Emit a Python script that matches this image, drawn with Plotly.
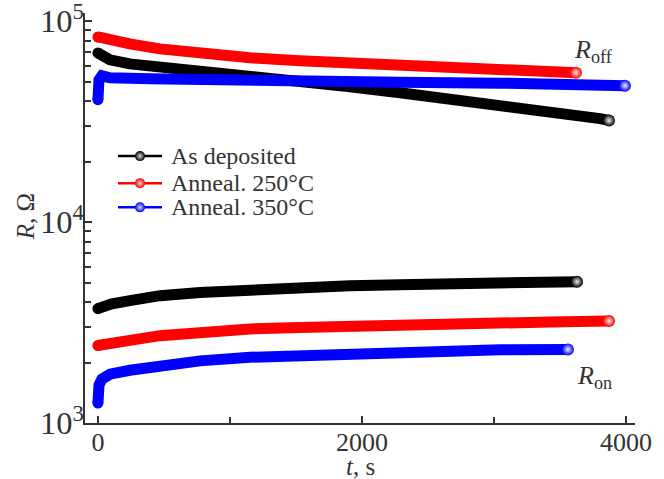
import plotly.graph_objects as go

names = ["As deposited", "Anneal. 250°C", "Anneal. 350°C"]
colors = ["#000000", "#ff0000", "#0000ff"]

# R_off branch
t_off_dep = [0, 91, 242, 470, 773, 1152, 1530, 1909, 2288, 2667, 3045, 3424, 3803, 3871]
r_off_dep = [69400, 64100, 61200, 59200, 57200, 54000, 50500, 47100, 44000, 41100, 38400, 35400, 32700, 32000]
t_off_250 = [0, 91, 242, 470, 773, 1152, 1530, 1909, 2288, 2667, 3045, 3424, 3621]
r_off_250 = [83300, 80500, 76900, 72700, 68600, 65600, 63400, 62000, 60500, 59200, 57800, 56500, 55300]
t_off_350 = [0, 3, 8, 30, 91, 394, 773, 1530, 2288, 3045, 3803, 3992]
r_off_350 = [40600, 45500, 51000, 53400, 52200, 51600, 51000, 50200, 49600, 49100, 48000, 47700]

# R_on branch
t_on_dep = [0, 53, 98, 242, 470, 773, 1152, 1530, 1909, 2288, 2667, 3045, 3629]
r_on_dep = [3710, 3837, 3907, 4064, 4300, 4460, 4610, 4710, 4820, 4880, 4930, 4990, 5050]
t_on_250 = [0, 53, 98, 242, 470, 773, 1152, 1530, 1909, 2288, 2667, 3045, 3424, 3871]
r_on_250 = [2430, 2476, 2506, 2575, 2720, 2854, 2938, 2986, 3040, 3076, 3112, 3148, 3183, 3220]
t_on_350 = [0, 3, 8, 30, 91, 242, 470, 773, 1152, 1530, 1909, 2288, 2667, 3045, 3560]
r_on_350 = [1256, 1424, 1542, 1652, 1749, 1830, 1937, 2038, 2123, 2173, 2224, 2262, 2297, 2315, 2323]

series = [
    (t_off_dep, r_off_dep, 0), (t_off_250, r_off_250, 1), (t_off_350, r_off_350, 2),
    (t_on_dep, r_on_dep, 0), (t_on_250, r_on_250, 1), (t_on_350, r_on_350, 2),
]

x_ticks = [0, 2000, 4000]

FONT = "Times New Roman, Liberation Serif, DejaVu Serif, serif"
AXCOL = "#333333"

fig = go.Figure()
for t, r, k in series:
    fig.add_trace(go.Scatter(x=t, y=r, mode="lines", showlegend=False,
                             line=dict(color=colors[k], width=11)))
    fig.add_trace(go.Scatter(x=[t[0]], y=[r[0]], mode="markers", showlegend=False,
                             marker=dict(color=colors[k], size=11)))
    fig.add_trace(go.Scatter(x=[t[-1]], y=[r[-1]], mode="markers", showlegend=False,
                             marker=dict(color=colors[k], size=12,
                                         gradient=dict(type="radial", color="#eeeeee"))))

# legend drawn on an overlay axis spanning the plot area (0..1)
leg_x_line = [0.06, 0.14]
leg_x_mark = 0.10
leg_x_text = 0.153
leg_rows = [0.651, 0.585, 0.526]
for k in range(3):
    fig.add_trace(go.Scatter(x=leg_x_line, y=[leg_rows[k]] * 2, mode="lines",
                             xaxis="x2", yaxis="y2", showlegend=False,
                             line=dict(color=colors[k], width=2.5)))
    fig.add_trace(go.Scatter(x=[leg_x_mark], y=[leg_rows[k]], mode="markers",
                             xaxis="x2", yaxis="y2", showlegend=False,
                             marker=dict(color=colors[k], size=10,
                                         gradient=dict(type="radial", color="#dddddd"))))
    fig.add_annotation(x=leg_x_text, y=leg_rows[k], xref="x2", yref="y2",
                       text=names[k], showarrow=False, xanchor="left", yanchor="middle",
                       font=dict(family=FONT, size=24, color=AXCOL))

fig.update_layout(
    width=664, height=479,
    margin=dict(l=85, r=29, t=13, b=56, autoexpand=False),
    plot_bgcolor="white", paper_bgcolor="white",
    font=dict(family=FONT, size=26, color=AXCOL),
    showlegend=False,
    xaxis=dict(range=[-98, 4068], tickvals=x_ticks, ticks="inside", ticklen=7,
               tickwidth=1.5, tickcolor=AXCOL, showline=True, linecolor=AXCOL,
               linewidth=2, showgrid=False, zeroline=False, automargin=False,
               ticklabelstandoff=-5,
               minor=dict(dtick=1000, ticks="inside", ticklen=6, tickcolor=AXCOL, showgrid=False),
               tickfont=dict(family=FONT, size=26)),
    yaxis=dict(type="log", range=[3, 5.04], dtick=1, exponentformat="power",
               ticks="inside", ticklen=7, tickwidth=1.5, tickcolor=AXCOL,
               showline=True, linecolor=AXCOL, linewidth=2, showgrid=False,
               zeroline=False, ticklabeloverflow="allow", automargin=False,
               ticklabelstandoff=-6,
               minor=dict(dtick="D1", ticks="inside", ticklen=6, tickcolor=AXCOL, showgrid=False),
               tickfont=dict(family=FONT, size=26)),
    xaxis2=dict(range=[0, 1], overlaying="x", visible=False, fixedrange=True),
    yaxis2=dict(range=[0, 1], overlaying="y", visible=False, fixedrange=True),
)

# axis titles
fig.add_annotation(x=0.5, y=-0.105, xref="paper", yref="paper", text="<i>t</i>, s",
                   showarrow=False, xanchor="center", yanchor="middle",
                   font=dict(family=FONT, size=25, color=AXCOL))
fig.add_annotation(x=-0.109, y=0.502, xref="paper", yref="paper", text="<i>R</i>, Ω",
                   showarrow=False, textangle=-90, xanchor="center", yanchor="middle",
                   font=dict(family=FONT, size=25, color=AXCOL))

fig.add_annotation(x=3750, y=4.85, xref="x", yref="y", text="<i>R</i><sub>off</sub>",
                   showarrow=False, font=dict(family=FONT, size=26, color=AXCOL))
fig.add_annotation(x=3760, y=3.23, xref="x", yref="y", text="<i>R</i><sub>on</sub>",
                   showarrow=False, font=dict(family=FONT, size=26, color=AXCOL))

fig.write_html("out.html")
